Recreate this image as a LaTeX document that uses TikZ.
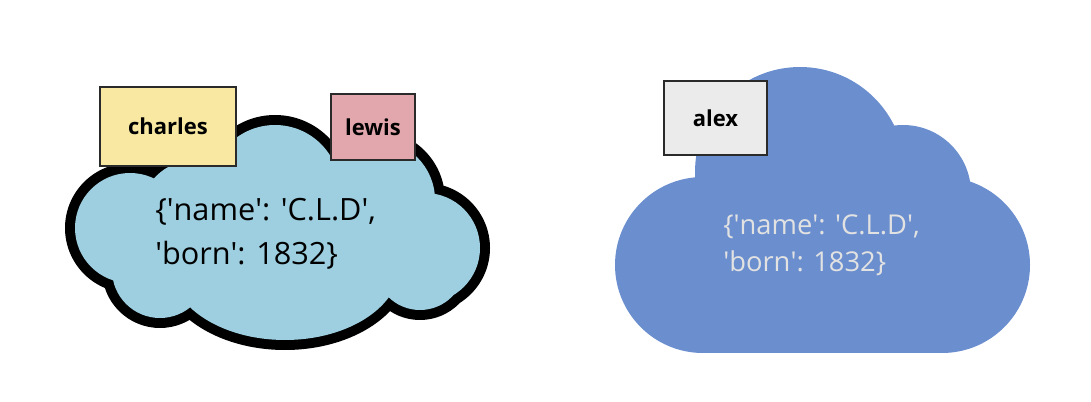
\documentclass[tikz,border=0pt]{standalone}
\usepackage{fontspec}
\setmainfont{Open Sans}
\definecolor{lcloud}{HTML}{9DCFE0}
\definecolor{rcloud}{HTML}{6A8ECE}
\definecolor{rtext}{HTML}{E2E2E2}
\definecolor{cyel}{HTML}{F8E8A2}
\definecolor{cpink}{HTML}{E2A7AD}
\definecolor{cgray}{HTML}{EBEBEB}
\definecolor{bord}{HTML}{2A2A2A}
\newcommand{\sq}{\textquotesingle}
\tikzset{
  namebox/.style={draw=bord, line width=1.5pt, inner sep=0pt, font=\fontsize{16.5}{19}\selectfont\bfseries},
  ltext/.style={anchor=base west, inner sep=0pt, font=\fontsize{23}{28}\selectfont},
  rtxt/.style={anchor=base west, inner sep=0pt, text=rtext, font=\fontsize{20.5}{24}\selectfont}
}
\begin{document}
\begin{tikzpicture}[x=0.75pt,y=-0.75pt]
\useasboundingbox (0,0) rectangle (1091,402);
% left cloud: outline
\fill[black]
  (130,228) circle (65)
  (195,215) circle (65)
  (275,190) circle (75)
  (375,200) circle (70)
  (425,248) circle (65)
  (420,265) circle (55)
  (285,265) ellipse (125 and 85)
  (160,270) circle (58);
\fill[lcloud]
  (130,228) circle (55)
  (195,215) circle (55)
  (275,190) circle (65)
  (375,200) circle (60)
  (425,248) circle (55)
  (420,265) circle (45)
  (285,265) ellipse (115 and 75)
  (160,270) circle (48);
% right cloud
\fill[rcloud] (800,172) circle (105);
\fill[rcloud] (903,193) circle (68);
\fill[rcloud] (703,265) circle (88);
\fill[rcloud] (942,265) circle (88);
\fill[rcloud] (703,177) rectangle (942,353);
% texts
\node[ltext] (l1) at (155,221) {\{\sq name\sq: \sq C.L.D\sq,};
\node[ltext] (l2) at (155,265) {\sq born\sq: 1832\}};
\node[rtxt] (r1) at (723,235) {\{\sq name\sq: \sq C.L.D\sq,};
\node[rtxt] (r2) at (723,272) {\sq born\sq: 1832\}};
% name boxes
\node[namebox, fill=cyel, minimum width=102pt, minimum height=59.25pt] (charles) at (168,126.5) {charles};
\node[namebox, fill=cpink, minimum width=63pt, minimum height=49.5pt] (lewis) at (373,127) {lewis};
\node[namebox, fill=cgray, minimum width=77.25pt, minimum height=55.5pt] (alex) at (715.5,118) {alex};
\end{tikzpicture}
\end{document}
